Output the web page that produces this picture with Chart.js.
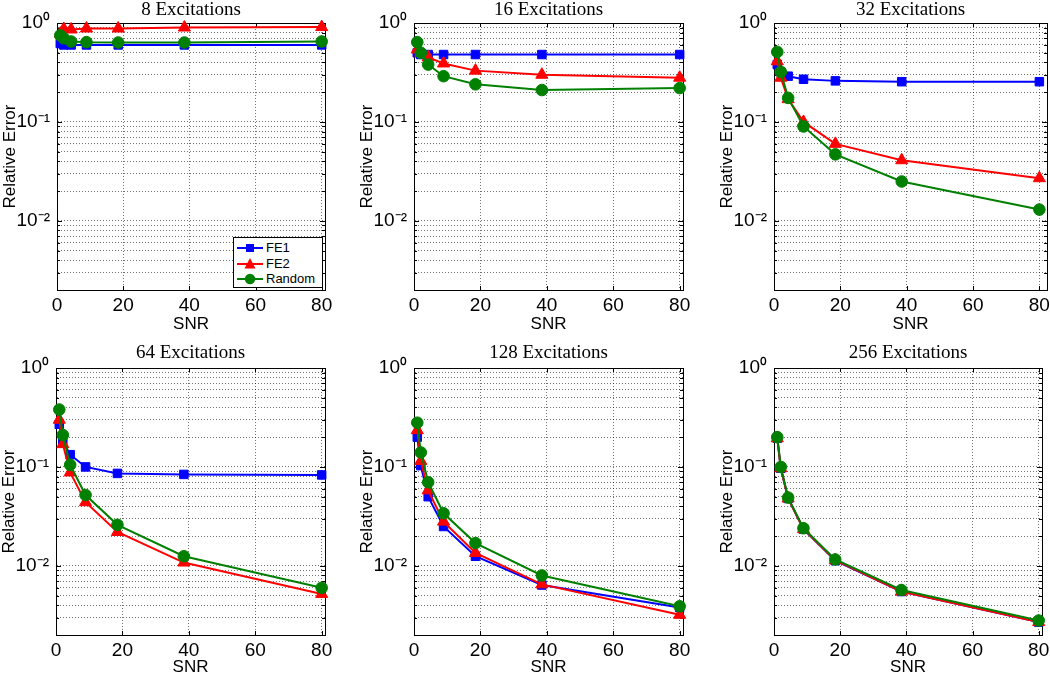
<!DOCTYPE html>
<html><head><meta charset="utf-8">
<script src="https://cdn.jsdelivr.net/npm/chart.js@4.4.1/dist/chart.umd.min.js"></script>
<style>
html,body{margin:0;padding:0;background:#fff;width:1050px;height:673px;overflow:hidden;position:relative;}
canvas{position:absolute;}
#legend{position:absolute;left:233px;top:237px;width:88px;height:49px;border:1px solid #000;background:#fff;font:13px "Liberation Sans",Arial,sans-serif;color:#000;}
.row{position:absolute;left:0;height:16px;width:88px;}
.row svg{position:absolute;left:2px;top:0;}
.row span{position:absolute;left:32px;top:0;line-height:16px;}
</style></head><body>
<div id="legend"></div>
<script>
// ---- data ----
const snr = [0.99, 2.05, 4.27, 8.9, 18.5, 38.5, 80];
const seriesNames = ['FE1', 'FE2', 'Random'];
const panelTitles = ['8 Excitations', '16 Excitations', '32 Excitations', '64 Excitations', '128 Excitations', '256 Excitations'];

const fe1_8   = [0.62, 0.60, 0.60, 0.60, 0.60, 0.60, 0.60];
const fe2_8   = [0.78, 0.87, 0.86, 0.88, 0.88, 0.90, 0.91];
const rnd_8   = [0.75, 0.70, 0.65, 0.64, 0.635, 0.635, 0.65];

const fe1_16  = [0.50, 0.48, 0.48, 0.48, 0.48, 0.48, 0.48];
const fe2_16  = [0.54, 0.50, 0.45, 0.39, 0.33, 0.30, 0.28];
const rnd_16  = [0.64, 0.50, 0.38, 0.29, 0.24, 0.21, 0.22];

const fe1_32  = [0.38, 0.32, 0.29, 0.27, 0.26, 0.255, 0.255];
const fe2_32  = [0.41, 0.28, 0.17, 0.10, 0.060, 0.041, 0.027];
const rnd_32  = [0.51, 0.32, 0.175, 0.09, 0.047, 0.025, 0.013];

const fe1_64  = [0.27, 0.18, 0.133, 0.10, 0.086, 0.084, 0.083];
const fe2_64  = [0.30, 0.17, 0.088, 0.044, 0.022, 0.0108, 0.0052];
const rnd_64  = [0.38, 0.21, 0.105, 0.052, 0.026, 0.0125, 0.006];

const fe1_128 = [0.20, 0.103, 0.05, 0.025, 0.0125, 0.0064, 0.0038];
const fe2_128 = [0.235, 0.115, 0.058, 0.028, 0.0135, 0.0065, 0.0032];
const rnd_128 = [0.28, 0.14, 0.07, 0.034, 0.017, 0.008, 0.0039];

const fe1_256 = [0.195, 0.097, 0.048, 0.0235, 0.0113, 0.0055, 0.0027];
const fe2_256 = [0.195, 0.097, 0.048, 0.0235, 0.0114, 0.0055, 0.0027];
const rnd_256 = [0.20, 0.10, 0.049, 0.024, 0.0116, 0.0057, 0.0028];

const xTickValues = [0, 20, 40, 60, 80];
const yTickValues = [0.003, 0.004, 0.005, 0.006, 0.007, 0.008, 0.009,
                     0.01, 0.02, 0.03, 0.04, 0.05, 0.06, 0.07, 0.08, 0.09,
                     0.1, 0.2, 0.3, 0.4, 0.5, 0.6, 0.7, 0.8, 0.9, 1];
const yDecadeLabels = {'1': '10\u2070', '0.1': '10\u207B\u00B9', '0.01': '10\u207B\u00B2'};

const panelSeries = [
  [fe1_8, fe2_8, rnd_8], [fe1_16, fe2_16, rnd_16], [fe1_32, fe2_32, rnd_32],
  [fe1_64, fe2_64, rnd_64], [fe1_128, fe2_128, rnd_128], [fe1_256, fe2_256, rnd_256]
];

// ---- styling / layout ----
const seriesColors = ['#0000ff', '#ff0000', '#008000'];
const seriesMarkers = ['rect', 'triangle', 'circle'];
const seriesRadius = [6, 7, 5.8];
const panels = [
  {left: 57,  top: 23,  w: 268, xmax: 81,   xh: 45, tpTop: 1.3, tpBot: 1.9},
  {left: 414, top: 23,  w: 269, xmax: 81,   xh: 45, tpTop: 1.3, tpBot: 1.9},
  {left: 774, top: 23,  w: 273, xmax: 82.3, xh: 45, tpTop: 1.3, tpBot: 1.9},
  {left: 56,  top: 368, w: 269, xmax: 81,   xh: 43, tpTop: 0,   tpBot: 3.2},
  {left: 414, top: 368, w: 269, xmax: 81,   xh: 43, tpTop: 0,   tpBot: 3.2},
  {left: 774, top: 368, w: 268, xmax: 81,   xh: 43, tpTop: 0,   tpBot: 3.2}
];
const AREA_H = 267, YW = 57, TITLE_H = 26, PAD_R = 12;
const sansFont = {family: '"Liberation Sans", Arial, sans-serif', size: 19};
const labelFont = {family: '"Liberation Sans", Arial, sans-serif', size: 17};
const titleFont = {family: '"Liberation Serif", "Times New Roman", serif', size: 19, weight: 'normal'};

const framePlugin = {
  id: 'frame',
  beforeDatasetsDraw(chart) {
    const {ctx, chartArea: a, scales} = chart;
    ctx.save();
    ctx.strokeStyle = '#000';
    ctx.lineWidth = 1;
    ctx.beginPath();
    scales.x.ticks.forEach(t => {
      const px = Math.round(scales.x.getPixelForValue(t.value)) + 0.5;
      ctx.moveTo(px, a.bottom); ctx.lineTo(px, a.bottom - 4);
      ctx.moveTo(px, a.top); ctx.lineTo(px, a.top + 4);
    });
    scales.y.ticks.forEach(t => {
      const py = Math.round(scales.y.getPixelForValue(t.value)) + 0.5;
      const len = yDecadeLabels[String(t.value)] ? 5 : 3;
      ctx.moveTo(a.left, py); ctx.lineTo(a.left + len, py);
      ctx.moveTo(a.right, py); ctx.lineTo(a.right - len, py);
    });
    ctx.stroke();
    ctx.strokeRect(Math.round(a.left) + 0.5, Math.round(a.top) + 0.5,
                   Math.round(a.right) - Math.round(a.left), Math.round(a.bottom) - Math.round(a.top));
    ctx.restore();
  }
};

panels.forEach((p, k) => {
  const c = document.createElement('canvas');
  const W = YW + p.w + PAD_R;
  const H = TITLE_H + AREA_H + p.xh;
  c.width = W; c.height = H;
  c.style.left = (p.left - YW) + 'px';
  c.style.top = (p.top - TITLE_H) + 'px';
  c.style.width = W + 'px'; c.style.height = H + 'px';
  document.body.insertBefore(c, document.getElementById('legend'));

  const datasets = panelSeries[k].map((vals, i) => ({
    label: seriesNames[i],
    data: snr.map((x, j) => ({x: x, y: vals[j]})),
    borderColor: seriesColors[i],
    backgroundColor: seriesColors[i],
    pointBackgroundColor: seriesColors[i],
    pointBorderColor: seriesColors[i],
    pointStyle: seriesMarkers[i],
    pointRadius: seriesRadius[i],
    pointBorderWidth: 1,
    borderWidth: 2,
    tension: 0,
    fill: false,
    clip: false,
    order: 2 - i
  }));

  new Chart(c, {
    type: 'line',
    data: {datasets},
    options: {
      responsive: false,
      animation: false,
      devicePixelRatio: 1,
      events: [],
      layout: {padding: {left: 0, right: PAD_R, top: 0, bottom: 0}},
      plugins: {
        legend: {display: false},
        tooltip: {enabled: false},
        title: {display: true, text: panelTitles[k], fullSize: false, color: '#000', font: titleFont, padding: {top: p.tpTop, bottom: p.tpBot}}
      },
      scales: {
        x: {
          type: 'linear', min: 0, max: p.xmax,
          afterBuildTicks: s => { s.ticks = xTickValues.map(v => ({value: v})); },
          afterFit: s => { s.height = p.xh; },
          ticks: {font: sansFont, color: '#000', padding: 4.5, autoSkip: false, maxRotation: 0, minRotation: 0, callback: v => String(v)},
          grid: {color: 'rgba(0,0,0,0.55)', lineWidth: 1, drawTicks: false},
          border: {display: true, color: '#000', width: 1, dash: [1, 2]},
          title: {display: true, text: 'SNR', color: '#000', font: labelFont, padding: 0}
        },
        y: {
          type: 'logarithmic', min: 0.002, max: 1,
          afterBuildTicks: s => { s.ticks = yTickValues.map(v => ({value: v})); },
          afterFit: s => { s.width = YW; },
          ticks: {font: sansFont, color: '#000', padding: 7, autoSkip: false, callback: v => yDecadeLabels[String(v)] || ''},
          grid: {color: 'rgba(0,0,0,0.55)', lineWidth: 1, drawTicks: false},
          border: {display: true, color: '#000', width: 1, dash: [1, 2]},
          title: {display: true, text: 'Relative Error', color: '#000', font: labelFont, padding: 0}
        }
      }
    },
    plugins: [framePlugin]
  });
});

// legend (first panel), built from the series definitions
const leg = document.getElementById('legend');
seriesNames.forEach((name, i) => {
  const row = document.createElement('div');
  row.className = 'row';
  row.style.top = (2 + i * 15.5) + 'px';
  const col = seriesColors[i];
  let marker = '';
  if (seriesMarkers[i] === 'rect') marker = `<rect x="10" y="4" width="8" height="8" fill="${col}"/>`;
  else if (seriesMarkers[i] === 'triangle') marker = `<polygon points="14,2 19.5,12.5 8.5,12.5" fill="${col}"/>`;
  else marker = `<circle cx="14" cy="8" r="5.2" fill="${col}"/>`;
  row.innerHTML = `<svg width="28" height="16"><line x1="1" y1="8" x2="27" y2="8" stroke="${col}" stroke-width="2"/>${marker}</svg><span>${name}</span>`;
  leg.appendChild(row);
});
</script>
</body></html>
